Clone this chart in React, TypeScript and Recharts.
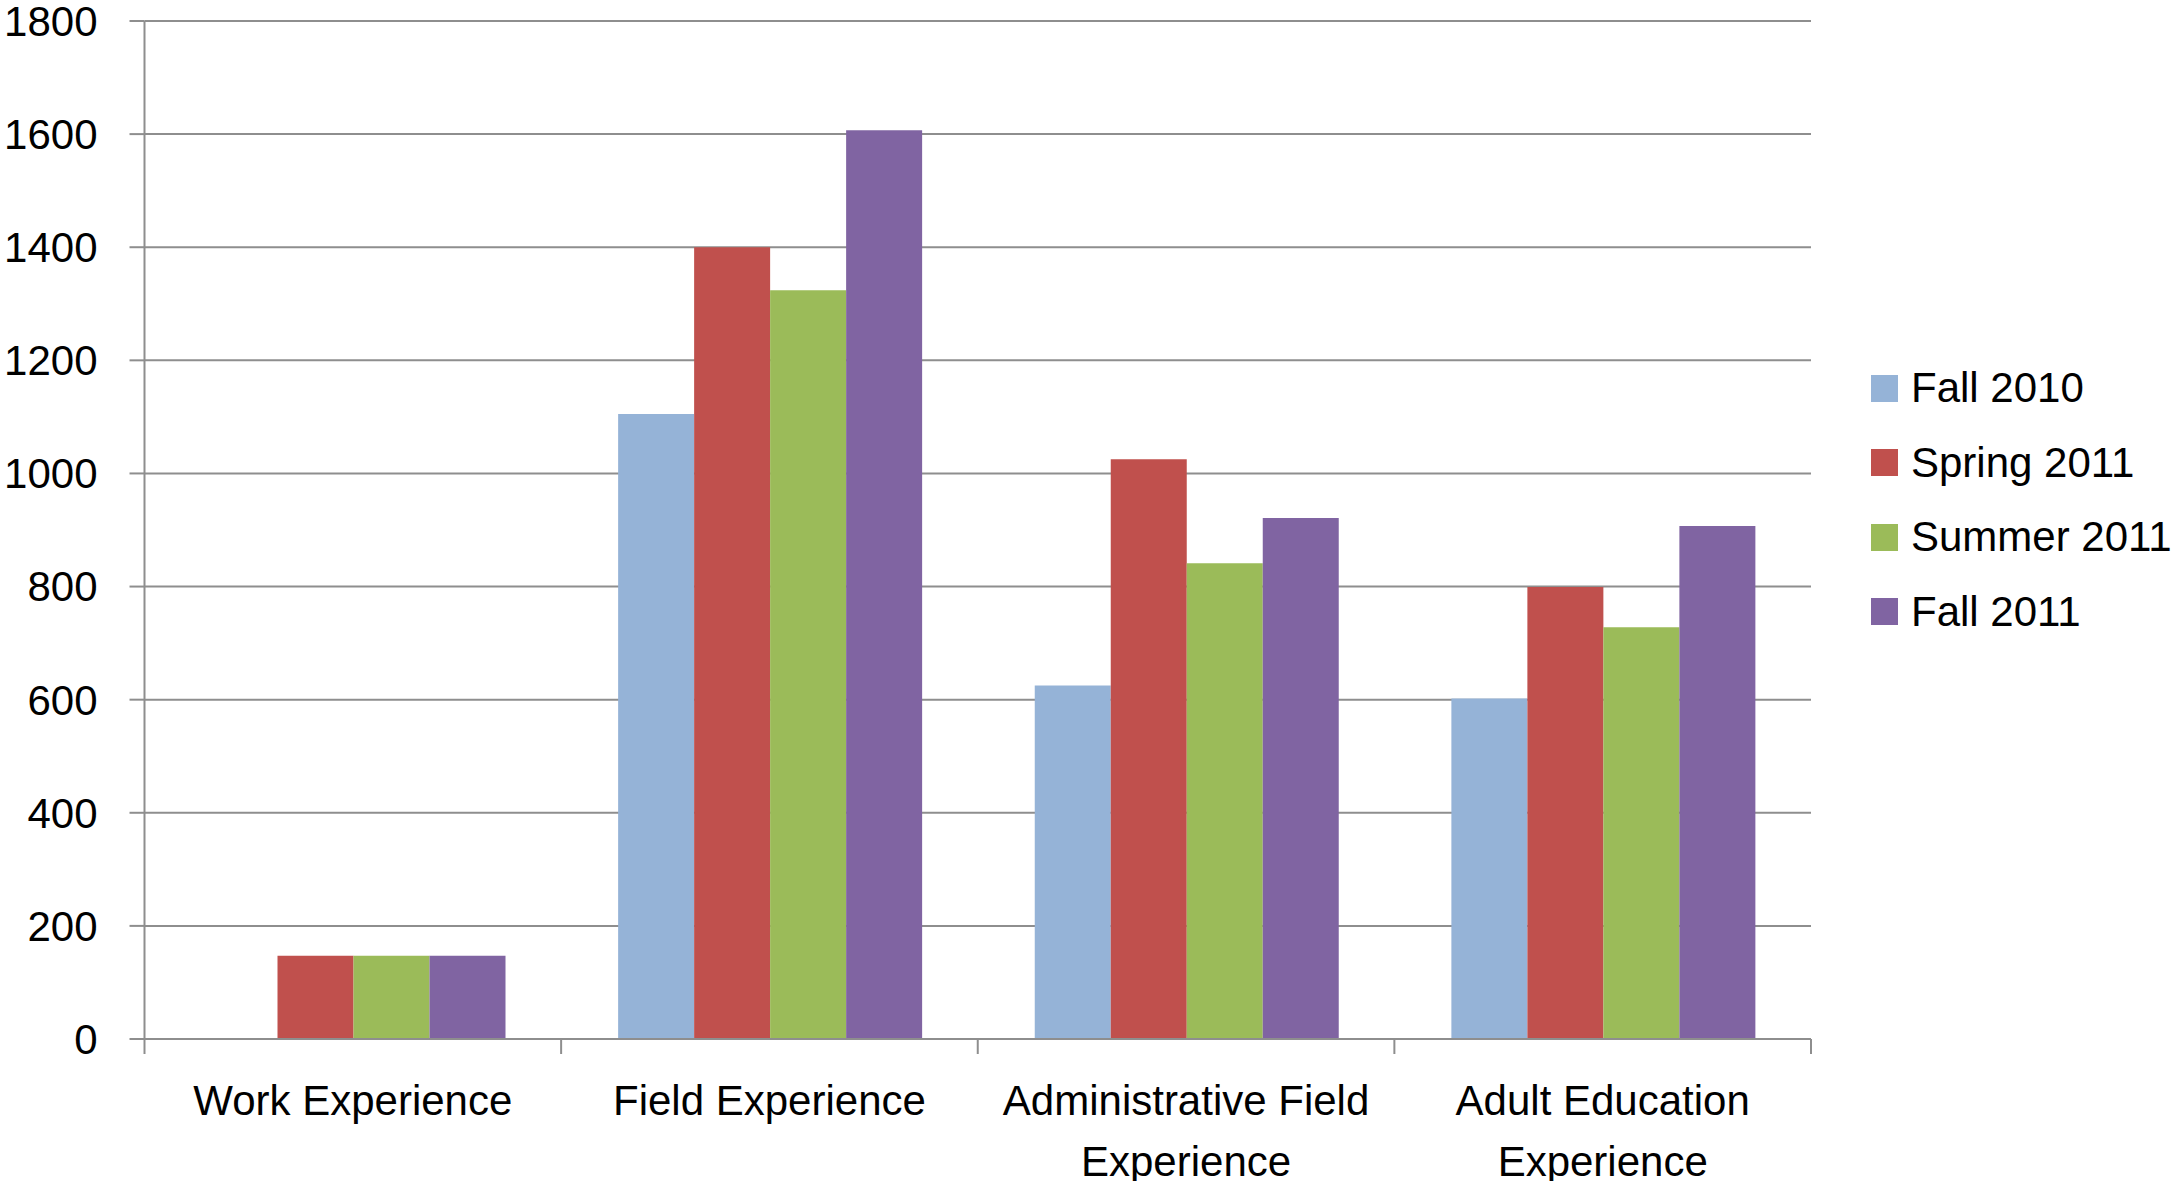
import React from 'react';
import { BarChart, Bar, XAxis, YAxis, CartesianGrid, Legend } from 'recharts';

const categories = [
  'Work Experience',
  'Field Experience',
  'Administrative Field Experience',
  'Adult Education Experience',
];
const tickLabelLines = [
  ['Work Experience'],
  ['Field Experience'],
  ['Administrative Field', 'Experience'],
  ['Adult Education', 'Experience'],
];
const seriesNames = ['Fall 2010', 'Spring 2011', 'Summer 2011', 'Fall 2011'];
const fall2010 = [null, 1105, 625, 602];
const spring2011 = [147, 1400, 1025, 799];
const summer2011 = [147, 1324, 841, 728];
const fall2011 = [147, 1607, 921, 907];
const seriesColors = ['#95B3D7', '#C0504D', '#9BBB59', '#8064A2'];
const yTicks = [0, 200, 400, 600, 800, 1000, 1200, 1400, 1600, 1800];

const FONT = '"Liberation Sans", Arial, sans-serif';
const GRID = '#8E8E8E';
const TICK_LEN = 15;

const data = categories.map((name, i) => ({
  name,
  s0: fall2010[i],
  s1: spring2011[i],
  s2: summer2011[i],
  s3: fall2011[i],
}));

const CatTick = (props: any) => {
  const { x, y, index, payload, width, visibleTicksCount } = props;
  const lines = tickLabelLines[index] || [String(payload?.value ?? '')];
  const half =
    payload && typeof payload.offset === 'number' && payload.offset > 0
      ? payload.offset
      : width / (visibleTicksCount || categories.length) / 2;
  const isLast = index === (visibleTicksCount || categories.length) - 1;
  return (
    <g>
      <line x1={x - half} x2={x - half} y1={y} y2={y + TICK_LEN} stroke={GRID} strokeWidth={2} />
      {isLast && <line x1={x + half} x2={x + half} y1={y} y2={y + TICK_LEN} stroke={GRID} strokeWidth={2} />}
      <text x={x} y={y + 76} textAnchor="middle" fontFamily={FONT} fontSize={42} fill="#000">
        {lines.map((l: string, i: number) => (
          <tspan key={i} x={x} dy={i === 0 ? 0 : 60.7}>
            {l}
          </tspan>
        ))}
      </text>
    </g>
  );
};

const LegendContent = (props: any) => {
  const src = props.payload && props.payload.length ? props.payload : [];
  const items = seriesNames.map((n, i) => {
    const p = src.find((e: any) => e.value === n);
    return { value: n, color: (p && p.color) || seriesColors[i] };
  });
  return (
    <div style={{ fontFamily: FONT, fontSize: 42, color: '#000' }}>
      {items.map((p: any, i: number) => (
        <div key={i} style={{ height: 74.5, display: 'flex', alignItems: 'center', whiteSpace: 'nowrap' }}>
          <div style={{ width: 27, height: 27, background: p.color, marginRight: 13, flex: 'none' }} />
          <span>{p.value}</span>
        </div>
      ))}
    </div>
  );
};

export default function App() {
  return (
    <div style={{ position: 'absolute', left: 0, top: 0, width: 2178, height: 1181, overflow: 'hidden', background: '#fff' }}>
      <BarChart
        width={2178}
        height={1181}
        data={data}
        margin={{ top: 21, right: 367, left: 0, bottom: 0 }}
        barCategoryGap={57}
        barGap={0}
      >
        <XAxis
          dataKey="name"
          height={142}
          tickSize={0}
          tickMargin={0}
          tickLine={false}
          axisLine={{ stroke: GRID, strokeWidth: 2 }}
          tick={<CatTick />}
          interval={0}
        />
        <YAxis
          domain={[0, 1800]}
          ticks={yTicks}
          width={144.5}
          tickSize={TICK_LEN}
          tickMargin={32}
          interval={0}
          axisLine={{ stroke: GRID, strokeWidth: 2 }}
          tickLine={{ stroke: GRID, strokeWidth: 2 }}
          tick={{ fill: '#000', fontSize: 42, fontFamily: FONT }}
        />
        <CartesianGrid vertical={false} stroke={GRID} strokeWidth={2} />
        <Legend
          layout="horizontal"
          verticalAlign="middle"
          align="center"
          itemSorter={null as any}
          content={<LegendContent />}
          wrapperStyle={{ position: 'absolute', left: 1871, top: 350.75, width: 307, height: 300, overflow: 'hidden' }}
        />
        {['s0', 's1', 's2', 's3'].map((k, i) => (
          <Bar
            key={k}
            dataKey={k}
            name={seriesNames[i]}
            fill={seriesColors[i]}
            isAnimationActive={false}
          />
        ))}
      </BarChart>
    </div>
  );
}
